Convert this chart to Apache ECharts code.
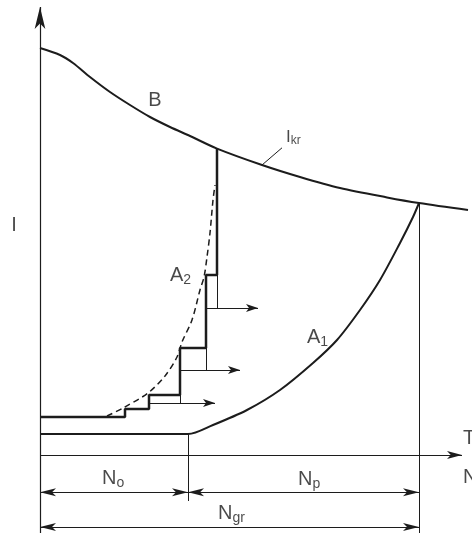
<!DOCTYPE html>
<html>
<head>
<meta charset="utf-8">
<script src="https://cdn.jsdelivr.net/npm/echarts@6/dist/echarts.min.js"></script>
<style>
html, body { margin: 0; padding: 0; background: #fff; }
#chart { width: 472px; height: 533px; }
</style>
</head>
<body>
<div id="chart"></div>
<script>
// curve B : critical current I_kr over N
const bX = [0, 0.5, 0.825, 1.25, 1.75, 2.25, 2.75, 3.25, 3.75, 4.425, 5.55, 6.5, 7.5, 8.675, 9.475, 10.7];
const bY = [10.175, 10.0, 9.8, 9.45, 9.075, 8.75, 8.45, 8.2, 7.975, 7.66, 7.25, 6.95, 6.675, 6.44, 6.3, 6.125];

// curve A1
const a1X = [0, 3.7, 4.325, 5.175, 6.0, 6.825, 7.425, 8.0, 8.5, 9.0, 9.325, 9.475];
const a1Y = [0.525, 0.525, 0.75, 1.125, 1.625, 2.3, 2.875, 3.625, 4.375, 5.3, 5.95, 6.3];

// dashed curve A2
const a2X = [1.675, 2.075, 2.7, 3.125, 3.425, 3.55, 3.8, 4.0, 4.1, 4.175, 4.25, 4.325, 4.375];
const a2Y = [0.975, 1.175, 1.55, 1.975, 2.45, 2.825, 3.375, 4.125, 4.45, 4.95, 5.55, 6.375, 6.75];

// staircase
const stepX = [2.125, 2.725, 3.5, 4.15, 4.425];
const stepY = [0.95, 1.15, 1.5, 2.675, 4.5];
const stepTop = 7.66;
const arrowY = [1.3, 2.125, 3.675];
const arrowEnd = [4.375, 5.0, 5.45];

// limits N0, Ngr
const n0 = 3.7;
const ngr = 9.475;
const dimY = [-0.93, -0.93, -1.8];

const ink = '#1c1c1c';
const zip = (xs, ys) => xs.map((x, i) => [x, ys[i]]);

let steps = [[0, stepY[0]]];
stepX.forEach((x, i) => {
    steps.push([x, stepY[i]]);
    steps.push([x, i < stepX.length - 1 ? stepY[i + 1] : stepTop]);
});

let feedDrops = [], feedArrows = [];
arrowY.forEach((y, k) => {
    feedDrops.push({coords: [[stepX[k + 2], stepY[k + 2]], [stepX[k + 2], y]]});
    feedArrows.push({coords: [[stepX[k + 1], y], [arrowEnd[k], y]]});
});

const rich = {
    m: {fontSize: 20, lineHeight: 24, color: ink, fontFamily: 'Liberation Sans'},
    s: {fontSize: 14, lineHeight: 14, color: ink, fontFamily: 'Liberation Sans', verticalAlign: 'bottom'},
    mi: {fontSize: 17, lineHeight: 20, color: ink, fontFamily: 'Liberation Sans'},
    si: {fontSize: 12, lineHeight: 12, color: ink, fontFamily: 'Liberation Sans', verticalAlign: 'bottom'}
};
const labels = [
    {value: [2.875, 8.875], text: '{m|B}', align: 'center'},
    {value: [6.15, 7.95], text: '{mi|I}{si|kr}', align: 'left'},
    {value: [3.25, 4.5], text: '{m|A}{s|2}', align: 'left'},
    {value: [6.675, 2.95], text: '{m|A}{s|1}', align: 'left'},
    {value: [-0.65, 5.75], text: '{m|I}', align: 'center'},
    {value: [10.575, 0.42], text: '{m|T}', align: 'left'},
    {value: [10.575, -0.55], text: '{m|N}', align: 'left'},
    {value: [1.55, -0.58], text: '{m|N}{s|o}', align: 'left'},
    {value: [6.45, -0.6], text: '{m|N}{s|p}', align: 'left'},
    {value: [4.45, -1.45], text: '{m|N}{s|gr}', align: 'left'}
];

const chart = echarts.init(document.getElementById('chart'));
chart.setOption({
    animation: false,
    grid: {left: 0, right: 0, top: 0, bottom: 0},
    xAxis: {type: 'value', min: -1, max: 10.8, show: false},
    yAxis: {type: 'value', min: -1.95, max: 11.375, show: false},
    series: [
        {type: 'line', data: zip(bX, bY), smooth: 0.3, showSymbol: false,
         lineStyle: {color: ink, width: 2}},
        {type: 'line', data: zip(a1X, a1Y), smooth: 0.3, showSymbol: false,
         lineStyle: {color: ink, width: 2}},
        {type: 'line', data: zip(a2X, a2Y), smooth: 0.3, showSymbol: false,
         lineStyle: {color: ink, width: 1.5, type: [6, 4]}},
        {type: 'line', data: steps, showSymbol: false,
         lineStyle: {color: ink, width: 2.5}},
        // thin lines without arrowheads
        {type: 'lines', coordinateSystem: 'cartesian2d', symbol: 'none',
         lineStyle: {color: ink, width: 1, opacity: 1},
         data: feedDrops.concat([
             {coords: [[ngr, 6.3], [ngr, -1.95]]},
             {coords: [[n0, 0.525], [n0, -1.15]]},
             {coords: [[5.55, 7.25], [6.05, 7.68]]}
         ])},
        // feed arrows
        {type: 'lines', coordinateSystem: 'cartesian2d', symbol: ['none', 'arrow'], symbolSize: [[6, 12], [6, 12]],
         lineStyle: {color: ink, width: 1, opacity: 1}, data: feedArrows},
        // axes
        {type: 'lines', coordinateSystem: 'cartesian2d', symbol: ['none', 'arrow'], symbolSize: [[8, 22], [8, 22]],
         lineStyle: {color: ink, width: 1.2, opacity: 1},
         data: [{coords: [[0, -1.95], [0, 11.2]]}]},
        {type: 'lines', coordinateSystem: 'cartesian2d', symbol: ['none', 'arrow'], symbolSize: [[6, 15], [6, 15]],
         lineStyle: {color: ink, width: 1.2, opacity: 1},
         data: [{coords: [[0, 0], [10.55, 0]]}]},
        // dimension lines
        {type: 'lines', coordinateSystem: 'cartesian2d', symbol: ['arrow', 'arrow'], symbolSize: [[6, 16], [6, 16]],
         lineStyle: {color: ink, width: 1, opacity: 1},
         data: [
             {coords: [[0, dimY[0]], [n0, dimY[0]]]},
             {coords: [[n0, dimY[1]], [ngr, dimY[1]]]},
             {coords: [[0, dimY[2]], [ngr, dimY[2]]]}
         ]},
        {type: 'scatter', symbolSize: 0, silent: true,
         data: labels.map(l => ({
             value: l.value,
             label: {show: true, position: 'inside', formatter: l.text, align: l.align, rich: rich}
         }))}
    ]
});
</script>
</body>
</html>
